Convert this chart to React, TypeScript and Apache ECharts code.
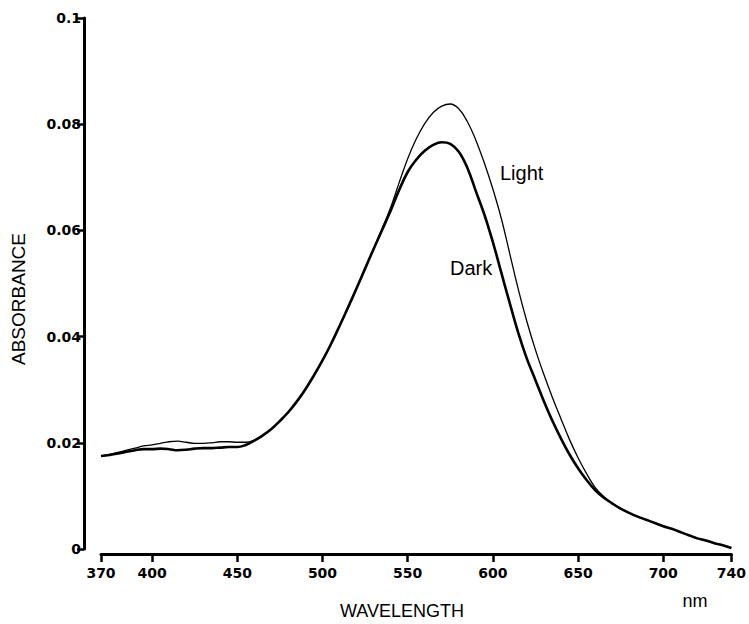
import React, { useEffect, useRef } from "react";
import * as echarts from "echarts";

const wavelengths = [370,375,380,385,390,395,400,405,410,415,420,425,430,435,440,445,450,455,460,465,470,475,480,485,490,495,500,505,510,515,520,525,530,535,540,545,550,555,560,565,570,575,580,585,590,595,600,605,610,615,620,625,630,635,640,645,650,655,660,665,670,675,680,685,690,695,700,705,710,715,720,725,730,735,740];

const lightValues = [0.0175,0.0178,0.0182,0.0186,0.0190,0.0194,0.0196,0.0199,0.0202,0.0203,0.0201,0.0199,0.0199,0.0200,0.0202,0.0202,0.0201,0.0201,0.0205,0.0214,0.0226,0.0241,0.0258,0.0278,0.0301,0.0327,0.0355,0.0386,0.0420,0.0455,0.0491,0.0528,0.0565,0.0603,0.0643,0.0690,0.0735,0.0772,0.0801,0.0822,0.0834,0.0838,0.0829,0.0805,0.0770,0.0727,0.0678,0.0622,0.0555,0.0488,0.0428,0.0375,0.0328,0.0285,0.0245,0.0206,0.0172,0.0142,0.0116,0.0099,0.0086,0.0076,0.0068,0.0061,0.0055,0.0049,0.0043,0.0038,0.0032,0.0026,0.0020,0.0016,0.0011,0.0007,0.0002];

const darkValues = [0.0175,0.0177,0.0180,0.0183,0.0186,0.0188,0.0188,0.0189,0.0188,0.0186,0.0187,0.0189,0.0190,0.0190,0.0191,0.0192,0.0192,0.0196,0.0204,0.0214,0.0226,0.0241,0.0258,0.0278,0.0301,0.0327,0.0355,0.0386,0.0420,0.0455,0.0491,0.0528,0.0565,0.0601,0.0637,0.0676,0.0710,0.0733,0.0750,0.0761,0.0766,0.0763,0.0748,0.0718,0.0674,0.0630,0.0578,0.0520,0.0462,0.0406,0.0358,0.0318,0.0278,0.0241,0.0208,0.0178,0.0152,0.0130,0.0111,0.0097,0.0086,0.0076,0.0068,0.0061,0.0055,0.0049,0.0043,0.0038,0.0032,0.0026,0.0020,0.0016,0.0011,0.0007,0.0002];

const xTicks = [370, 400, 450, 500, 550, 600, 650, 700, 740];
const yLabels = ["0", "0.02", "0.04", "0.06", "0.08", "0.1"];

const SANS = "'Liberation Sans', Arial, Helvetica, sans-serif";
const TICKFONT = "'DejaVu Sans', sans-serif";

export default function App() {
  const ref = useRef<HTMLDivElement>(null);
  useEffect(() => {
    document.body.style.margin = "0";
    const chart = echarts.init(ref.current!, null, { renderer: "svg" });
    const lightData = wavelengths.map((w, i) => [w, lightValues[i]]);
    const darkData = wavelengths.map((w, i) => [w, darkValues[i]]);
    chart.setOption({
      animation: false,
      backgroundColor: "#ffffff",
      grid: { left: 101, right: 14, top: 18, bottom: 75 },
      xAxis: {
        type: "value",
        min: 370,
        max: 740,
        offset: 5,
        splitLine: { show: false },
        axisLine: { show: true, onZero: false, lineStyle: { color: "#000", width: 3 } },
        axisTick: { show: true, customValues: xTicks, length: 8, lineStyle: { color: "#000", width: 2.5 } },
        axisLabel: {
          customValues: xTicks,
          color: "#000",
          fontFamily: TICKFONT,
          fontWeight: "bold",
          fontSize: 14,
          margin: 12,
        },
      },
      yAxis: {
        type: "value",
        min: 0,
        max: 0.1,
        interval: 0.02,
        offset: 17,
        splitLine: { show: false },
        axisLine: { show: true, lineStyle: { color: "#000", width: 3 } },
        axisTick: { show: true, length: 7, lineStyle: { color: "#000", width: 2.5 } },
        axisLabel: {
          color: "#000",
          fontFamily: TICKFONT,
          fontWeight: "bold",
          fontSize: 14,
          margin: 3,
          formatter: (v: number) => yLabels[Math.round(v / 0.02)],
        },
      },
      series: [
        {
          name: "Light",
          type: "line",
          data: lightData,
          showSymbol: false,
          smooth: 0.4,
          lineStyle: { color: "#000", width: 1.3 },
        },
        {
          name: "Dark",
          type: "line",
          data: darkData,
          showSymbol: false,
          smooth: 0.4,
          lineStyle: { color: "#000", width: 2.6 },
        },
      ],
      graphic: [
        {
          type: "text",
          x: 500,
          y: 173,
          style: { text: "Light", fill: "#000", font: `20px ${SANS}`, verticalAlign: "middle", align: "left" },
        },
        {
          type: "text",
          x: 450,
          y: 268,
          style: { text: "Dark", fill: "#000", font: `20px ${SANS}`, verticalAlign: "middle", align: "left" },
        },
        {
          type: "text",
          x: 18,
          y: 299,
          rotation: Math.PI / 2,
          style: { text: "ABSORBANCE", fill: "#000", font: `19px ${SANS}`, verticalAlign: "middle", align: "center" },
        },
        {
          type: "text",
          x: 402,
          y: 611,
          style: { text: "WAVELENGTH", fill: "#000", font: `18px ${SANS}`, verticalAlign: "middle", align: "center" },
        },
        {
          type: "text",
          x: 695,
          y: 601,
          style: { text: "nm", fill: "#000", font: `18px ${SANS}`, verticalAlign: "middle", align: "center" },
        },
      ],
    });
    return () => chart.dispose();
  }, []);
  return <div ref={ref} style={{ width: 749, height: 624 }} />;
}
